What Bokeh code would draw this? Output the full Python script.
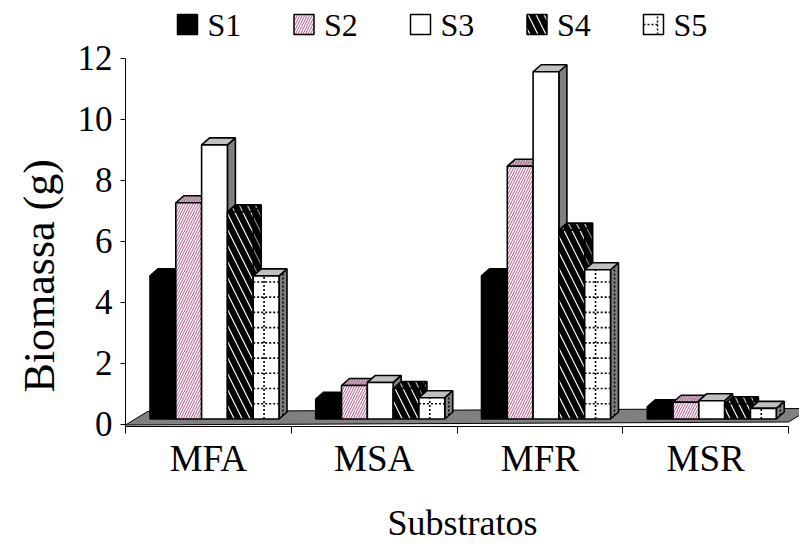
from bokeh.plotting import figure
from bokeh.models import Range1d, FixedTicker, LinearAxis, Title
from bokeh.core.properties import value
from bokeh.embed import file_html
from bokeh.resources import INLINE

# ---- data -------------------------------------------------------------
categories = ["MFA", "MSA", "MFR", "MSR"]
series_names = ["S1", "S2", "S3", "S4", "S5"]
s1 = [4.7, 0.65, 4.7, 0.4]
s2 = [7.1, 1.1, 8.3, 0.55]
s3 = [9.0, 1.2, 11.4, 0.6]
s4 = [6.8, 1.0, 6.2, 0.5]
s5 = [4.7, 0.7, 4.9, 0.35]
y_ticks = [0, 2, 4, 6, 8, 10, 12]
series_values = [s1, s2, s3, s4, s5]

# ---- layout -----------------------------------------------------------
W, H = 799, 546
FRAME_L = 125          # left border (px)
FRAME_B = 120          # bottom border (px)
PX_X = 165.75          # px per category
PX_Y = 30.46           # px per value unit
ZERO_PAD = 2.5         # px between value 0 and the frame bottom
frame_h = H - FRAME_B
y_start = -ZERO_PAD / PX_Y
y_end = y_start + frame_h / PX_Y
x_end = (W - FRAME_L) / PX_X


def dx(px):
    return px / PX_X


def dy(px):
    return px / PX_Y


def cx(px):
    """canvas x (px) -> data x"""
    return (px - FRAME_L) / PX_X


def cy(py):
    """canvas y (px from top) -> data y"""
    return (frame_h - ZERO_PAD - py) / PX_Y


FONT = "'Liberation Serif', 'Times New Roman', serif"
LIGHT = "#c0c0c0"
DARK = "#808080"
PINK = "#b3548b"

BAR_W = dx(25.8)
GROUP_OFF = dx(24.5)
DEPTH_X = dx(8)
DEPTH_Y = dy(7)
BASE = dy(5)

p = figure(width=W, height=H,
           x_range=Range1d(0, x_end), y_range=Range1d(y_start, y_end),
           x_axis_type=None, y_axis_type=None,
           output_backend="svg", toolbar_location=None,
           min_border_left=FRAME_L, min_border_right=0,
           min_border_top=0, min_border_bottom=FRAME_B)
p.outline_line_color = None
p.background_fill_color = "white"
p.border_fill_color = "white"

# ---- axes -------------------------------------------------------------
yaxis = LinearAxis(ticker=FixedTicker(ticks=y_ticks, minor_ticks=[]),
                   bounds=(y_start, 12))
yaxis.major_tick_in = 0
yaxis.major_tick_out = 5
yaxis.minor_tick_in = 0
yaxis.minor_tick_out = 0
yaxis.major_label_standoff = 8
yaxis.major_label_text_font = FONT
yaxis.major_label_text_font_size = "35px"
yaxis.major_label_text_color = "black"
yaxis.axis_line_color = "black"
yaxis.major_tick_line_color = "black"
p.add_layout(yaxis, "left")

# value-axis title, anchored near the bottom of the frame
p.add_layout(Title(text="Biomassa (g)", align="left", offset=34,
                   text_font=FONT, text_font_size="44px",
                   text_font_style="normal", text_color="black",
                   standoff=22), "left")

centers = [i + 0.5 for i in range(len(categories))]
xaxis = LinearAxis(ticker=FixedTicker(ticks=centers,
                                      minor_ticks=list(range(len(categories) + 1))),
                   bounds=(0, len(categories)))
xaxis.major_label_overrides = {c: name for c, name in zip(centers, categories)}
xaxis.major_tick_in = 0
xaxis.major_tick_out = 0
xaxis.minor_tick_in = 0
xaxis.minor_tick_out = 7
xaxis.minor_tick_line_color = "black"
xaxis.major_label_standoff = 4
xaxis.major_label_text_font = FONT
xaxis.major_label_text_font_size = "37px"
xaxis.major_label_text_color = "black"
xaxis.axis_label = "Substratos"
xaxis.axis_label_text_font = FONT
xaxis.axis_label_text_font_size = "36px"
xaxis.axis_label_text_font_style = "normal"
xaxis.axis_label_text_color = "black"
xaxis.axis_label_standoff = 21
xaxis.axis_line_color = "black"
p.add_layout(xaxis, "below")

# ---- floor ------------------------------------------------------------
FLOOR_DX = dx(22)
FLOOR_DY = dy(13.5)
n_cat = len(categories)
floor_front_l = cy(424.5)
floor_front_r = cy(421.5)
p.patch([0, n_cat, n_cat + FLOOR_DX, FLOOR_DX],
        [floor_front_l, floor_front_r, floor_front_r + FLOOR_DY, floor_front_l + FLOOR_DY],
        fill_color=DARK, line_color="black", line_width=1)

# ---- 3-D bars ---------------------------------------------------------
styles = [
    dict(front=dict(fill_color="black"), top=dict(fill_color="black"),
         side=dict(fill_color="black")),
    dict(front=dict(fill_color="white", hatch_pattern="/", hatch_color=PINK,
                    hatch_scale=5, hatch_weight=1),
         top=dict(fill_color=LIGHT, hatch_pattern="/", hatch_color=PINK,
                  hatch_scale=5, hatch_weight=1),
         side=dict(fill_color=DARK, hatch_pattern="/", hatch_color=PINK,
                   hatch_scale=5, hatch_weight=1)),
    dict(front=dict(fill_color="white"), top=dict(fill_color=LIGHT),
         side=dict(fill_color=DARK)),
    dict(front=dict(fill_color="white", hatch_pattern="\\", hatch_color="black",
                    hatch_scale=16, hatch_weight=6),
         top=dict(fill_color=LIGHT, hatch_pattern="\\", hatch_color="black",
                  hatch_scale=16, hatch_weight=6),
         side=dict(fill_color=DARK, hatch_pattern="\\", hatch_color="black",
                   hatch_scale=16, hatch_weight=6)),
    dict(front=dict(fill_color="white"), top=dict(fill_color=LIGHT),
         side=dict(fill_color=DARK)),
]

for k, (vals, st) in enumerate(zip(series_values, styles)):
    fx, fy, tx, ty, sxs, sys_ = [], [], [], [], [], []
    grid_x, grid_y = [], []
    for i, v in enumerate(vals):
        x0 = i + GROUP_OFF + k * BAR_W
        x1 = x0 + BAR_W
        y0 = BASE
        y1 = BASE + v
        sxs.append([x1, x1 + DEPTH_X, x1 + DEPTH_X, x1])
        sys_.append([y0, y0 + DEPTH_Y, y1 + DEPTH_Y, y1])
        tx.append([x0, x1, x1 + DEPTH_X, x0 + DEPTH_X])
        ty.append([y1, y1, y1 + DEPTH_Y, y1 + DEPTH_Y])
        fx.append([x0, x1, x1, x0])
        fy.append([y0, y0, y1, y1])
        if k == 4:
            # dotted grid pattern on the front and side faces
            xm = x0 + 0.42 * BAR_W
            grid_x.append([xm, xm])
            grid_y.append([y0, y1])
            xs_mid = x1 + DEPTH_X / 2
            grid_x.append([xs_mid, xs_mid])
            grid_y.append([y0 + DEPTH_Y / 2, y1 + DEPTH_Y / 2])
            h = y0 + 0.5
            while h < y1 - 0.05:
                grid_x.append([x0, x1])
                grid_y.append([h, h])
                h += 0.5
    common = dict(line_color="black", line_width=1.6)
    p.patches(sxs, sys_, **st["side"], **common)
    p.patches(tx, ty, **st["top"], **common)
    p.patches(fx, fy, **st["front"], **common)
    if grid_x:
        p.multi_line(grid_x, grid_y, line_color="black", line_width=1.6,
                     line_dash="2 2")

# ---- legend -----------------------------------------------------------
LEG_L0 = 177
LEG_STEP = 116.5
LEG_SIZE = 20
LEG_TOP = 14
for k, (name, st) in enumerate(zip(series_names, styles)):
    lpx = LEG_L0 + k * LEG_STEP
    left, right = cx(lpx), cx(lpx + LEG_SIZE)
    top, bottom = cy(LEG_TOP), cy(LEG_TOP + LEG_SIZE)
    p.quad(left=[left], right=[right], top=[top], bottom=[bottom],
           line_color="black", line_width=1.5, **st["front"])
    if k == 4:
        xm = cx(lpx + 0.7 * LEG_SIZE)
        ym = cy(LEG_TOP + LEG_SIZE / 2)
        p.multi_line([[xm, xm], [left, xm]], [[bottom, top], [ym, ym]],
                     line_color="black", line_width=1.5, line_dash="2 2")
    p.text(x=[cx(lpx + LEG_SIZE + 10)], y=[cy(LEG_TOP - 8)], text=[name],
           text_font=value(FONT), text_font_size="32px",
           text_baseline="top", text_align="left", text_color="black")

open("out.html", "w").write(file_html(p, INLINE))
